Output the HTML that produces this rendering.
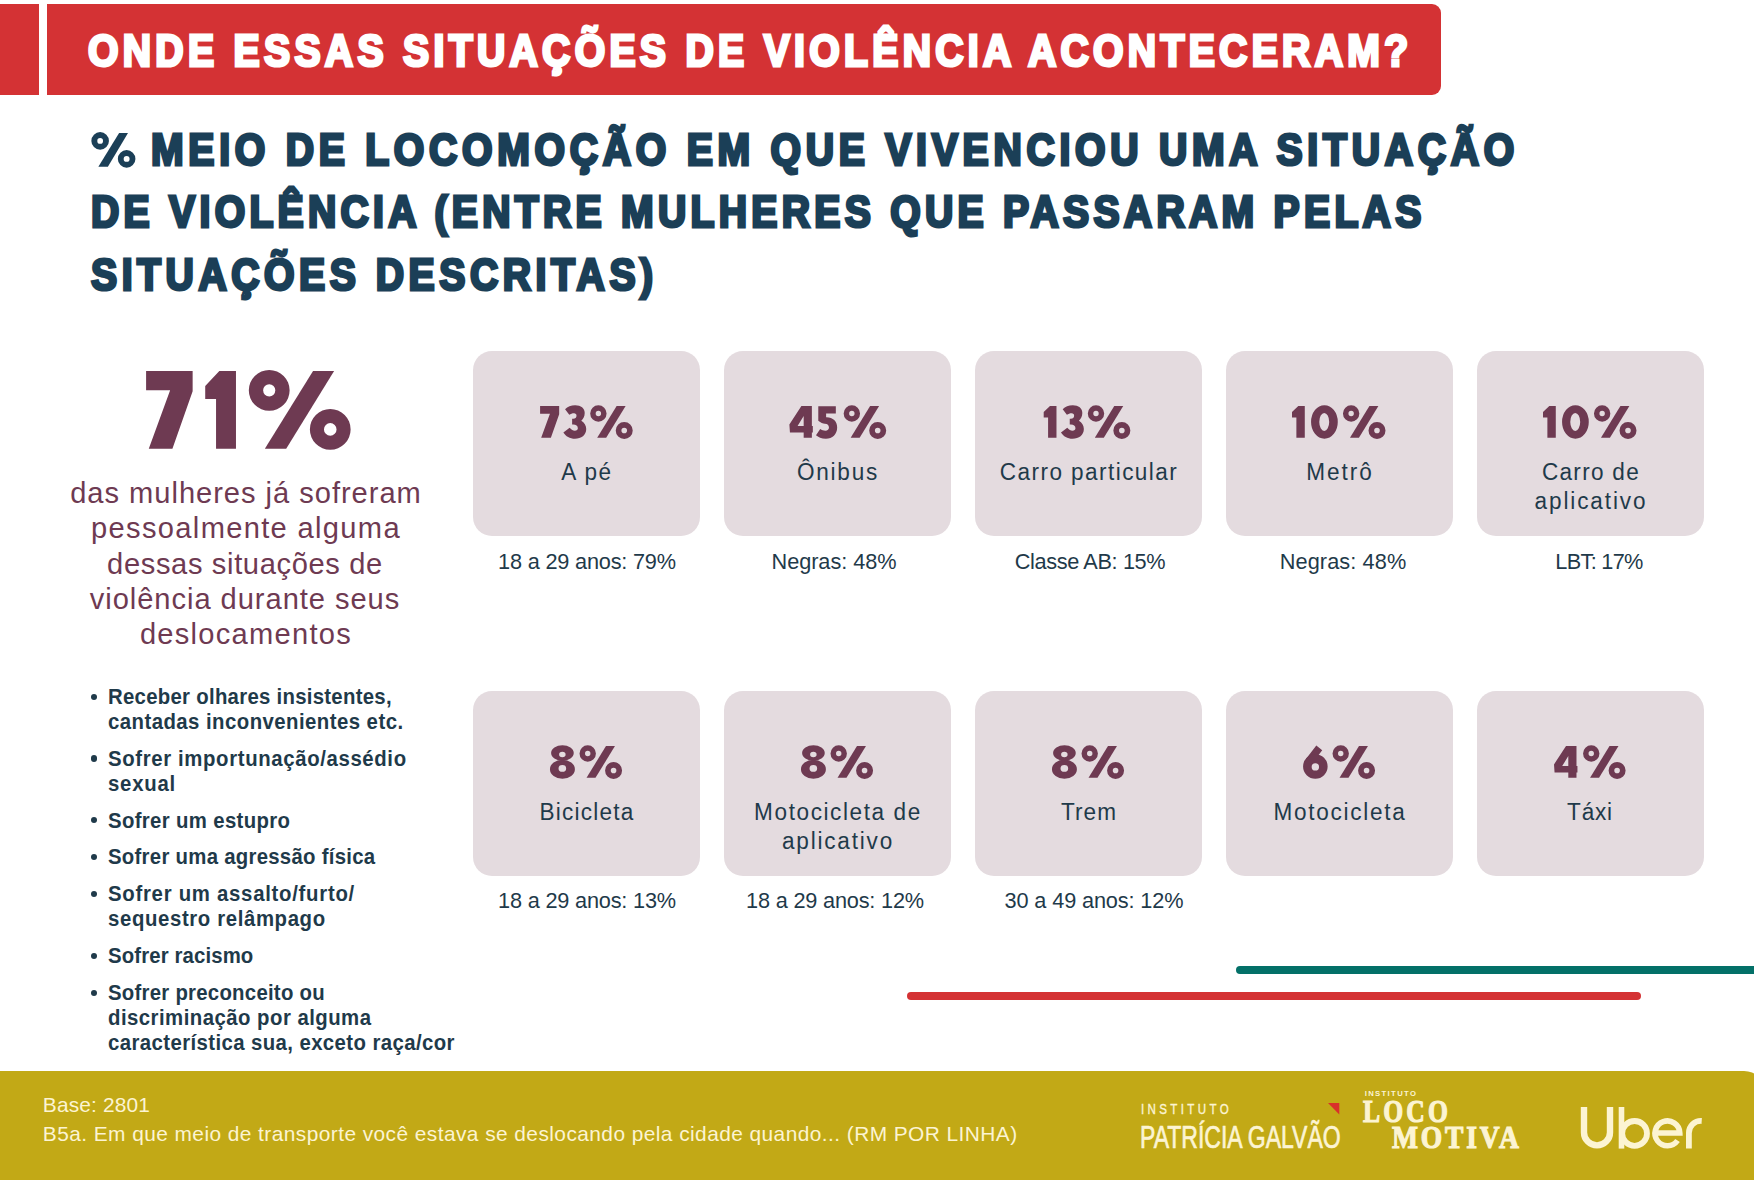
<!DOCTYPE html>
<html><head><meta charset="utf-8"><title>Onde essas situações de violência aconteceram?</title>
<style>
html,body{margin:0;padding:0;background:#ffffff;}
body{width:1754px;height:1180px;position:relative;overflow:hidden;font-family:"Liberation Sans", sans-serif;}
.t{position:absolute;white-space:nowrap;line-height:1;}
</style></head><body>
<div style="position:absolute;left:0px;top:4px;width:38.8px;height:91.2px;background:#d43234;"></div>
<div style="position:absolute;left:47.3px;top:4px;width:1394px;height:91.2px;background:#d43234;border-radius:0 9px 9px 0;"></div>
<svg style="position:absolute;left:0;top:0" width="300" height="300" viewBox="0 0 300 300"><g fill="#1b3f57">
<polygon points="98.35,166.74 107.88,166.74 128.0,133.05 119.11,133.05"/>
<path fill-rule="evenodd" d="M91.36,140.89 a8.79,8.79 0 1,0 17.58,0 a8.79,8.79 0 1,0 -17.58,0 Z M97.29,140.89 a2.86,2.86 0 1,0 5.72,0 a2.86,2.86 0 1,0 -5.72,0 Z"/>
<path fill-rule="evenodd" d="M117.84,158.90 a8.79,8.79 0 1,0 17.58,0 a8.79,8.79 0 1,0 -17.58,0 Z M123.66,158.90 a2.97,2.97 0 1,0 5.94,0 a2.97,2.97 0 1,0 -5.94,0 Z"/>
</g></svg>
<svg style="position:absolute;left:0;top:0" width="400" height="500" viewBox="0 0 400 500">
<g fill="#6e3a52">
<polygon points="146.10,371.10 192.64,371.10 192.64,391.32 172.42,448.76 148.77,448.76 170.13,390.17 146.10,390.17"/>
<polygon points="219.33,371.10 235.97,371.10 235.97,448.76 216.05,448.76 216.05,398.95 205.22,398.95 205.22,385.98"/>
<polygon points="264.83,448.76 286.19,448.76 334.10,371.10 313.05,371.10"/>
<path fill-rule="evenodd" d="M248.81,390.36 a20.41,20.41 0 1,0 40.82,0 a20.41,20.41 0 1,0 -40.82,0 Z M263.12,390.36 a6.1,6.1 0 1,0 12.2,0 a6.1,6.1 0 1,0 -12.2,0 Z"/>
<path fill-rule="evenodd" d="M309.88,429.38 a20.37,20.37 0 1,0 40.74,0 a20.37,20.37 0 1,0 -40.74,0 Z M323.95,429.38 a6.3,6.3 0 1,0 12.6,0 a6.3,6.3 0 1,0 -12.6,0 Z"/>
</g></svg>
<div style="position:absolute;left:90.8px;top:693.50px;width:6.4px;height:6.4px;border-radius:50%;background:#1f3a4a;"></div>
<div style="position:absolute;left:90.8px;top:755.30px;width:6.4px;height:6.4px;border-radius:50%;background:#1f3a4a;"></div>
<div style="position:absolute;left:90.8px;top:817.10px;width:6.4px;height:6.4px;border-radius:50%;background:#1f3a4a;"></div>
<div style="position:absolute;left:90.8px;top:854.00px;width:6.4px;height:6.4px;border-radius:50%;background:#1f3a4a;"></div>
<div style="position:absolute;left:90.8px;top:890.90px;width:6.4px;height:6.4px;border-radius:50%;background:#1f3a4a;"></div>
<div style="position:absolute;left:90.8px;top:952.70px;width:6.4px;height:6.4px;border-radius:50%;background:#1f3a4a;"></div>
<div style="position:absolute;left:90.8px;top:989.60px;width:6.4px;height:6.4px;border-radius:50%;background:#1f3a4a;"></div>
<div style="position:absolute;left:472.5px;top:351px;width:227px;height:185px;background:#e4dbdf;border-radius:19px;"></div>
<div style="position:absolute;left:723.5px;top:351px;width:227px;height:185px;background:#e4dbdf;border-radius:19px;"></div>
<div style="position:absolute;left:974.5px;top:351px;width:227px;height:185px;background:#e4dbdf;border-radius:19px;"></div>
<div style="position:absolute;left:1225.5px;top:351px;width:227px;height:185px;background:#e4dbdf;border-radius:19px;"></div>
<div style="position:absolute;left:1476.5px;top:351px;width:227px;height:185px;background:#e4dbdf;border-radius:19px;"></div>
<div style="position:absolute;left:472.5px;top:691px;width:227px;height:185px;background:#e4dbdf;border-radius:19px;"></div>
<div style="position:absolute;left:723.5px;top:691px;width:227px;height:185px;background:#e4dbdf;border-radius:19px;"></div>
<div style="position:absolute;left:974.5px;top:691px;width:227px;height:185px;background:#e4dbdf;border-radius:19px;"></div>
<div style="position:absolute;left:1225.5px;top:691px;width:227px;height:185px;background:#e4dbdf;border-radius:19px;"></div>
<div style="position:absolute;left:1476.5px;top:691px;width:227px;height:185px;background:#e4dbdf;border-radius:19px;"></div>
<svg style="position:absolute;left:0;top:0" width="1754" height="1180" viewBox="0 0 1754 1180"><g fill="#6e3a52"><polygon points="540.09,405.99 559.17,405.99 559.17,414.28 550.88,437.83 541.18,437.83 549.94,413.81 540.09,413.81"/><path transform="translate(563.36,405.99) scale(0.03812) translate(-90,-157.1)" d="M135,245 C200,170 290,135 400,135 C550,135 650,215 650,340 C650,430 610,500 560,545 C640,590 690,670 690,760 C690,920 560,1015 395,1015 C260,1015 150,950 90,850 L255,730 C300,780 345,805 390,805 C440,805 470,780 470,740 C470,680 420,645 350,645 L320,645 L320,490 L350,490 C400,490 435,460 435,410 C435,375 410,350 370,350 C320,350 285,365 245,390 Z"/><polygon points="597.19,437.83 606.17,437.83 625.62,405.99 616.64,405.99"/><path fill-rule="evenodd" d="M590.18,413.47 a8.20,8.20 0 1,0 16.40,0 a8.20,8.20 0 1,0 -16.40,0 Z M595.68,413.47 a2.70,2.70 0 1,0 5.40,0 a2.70,2.70 0 1,0 -5.40,0 Z"/><path fill-rule="evenodd" d="M615.73,430.53 a8.50,8.50 0 1,0 17.00,0 a8.50,8.50 0 1,0 -17.00,0 Z M621.43,430.53 a2.80,2.80 0 1,0 5.60,0 a2.80,2.80 0 1,0 -5.60,0 Z"/><path fill-rule="evenodd" transform="translate(789.38,405.99) scale(0.03812) translate(-115,-157.1)" d="M430,160 L705,160 L705,685 L730,685 L730,855 L705,855 L705,990 L490,990 L490,855 L130,855 L115,640 Z M330,685 L490,685 L490,420 Z"/><path transform="translate(816.00,405.99) scale(0.03812) translate(-105,-157.1)" d="M165,165 L625,165 L625,355 L370,355 L370,450 C545,445 660,555 660,720 C660,895 535,1015 365,1015 C245,1015 165,975 105,925 L215,760 C255,790 305,805 350,805 C410,805 445,770 445,720 C445,665 405,625 340,625 C285,625 230,590 165,545 Z"/><polygon points="850.66,437.83 859.64,437.83 879.09,405.99 870.11,405.99"/><path fill-rule="evenodd" d="M843.65,413.47 a8.20,8.20 0 1,0 16.40,0 a8.20,8.20 0 1,0 -16.40,0 Z M849.15,413.47 a2.70,2.70 0 1,0 5.40,0 a2.70,2.70 0 1,0 -5.40,0 Z"/><path fill-rule="evenodd" d="M869.20,430.53 a8.50,8.50 0 1,0 17.00,0 a8.50,8.50 0 1,0 -17.00,0 Z M874.90,430.53 a2.80,2.80 0 1,0 5.60,0 a2.80,2.80 0 1,0 -5.60,0 Z"/><polygon points="1049.99,405.99 1056.48,405.99 1056.48,437.83 1048.09,437.83 1048.09,417.43 1043.70,417.43 1043.70,412.09"/><path transform="translate(1060.98,405.99) scale(0.03812) translate(-90,-157.1)" d="M135,245 C200,170 290,135 400,135 C550,135 650,215 650,340 C650,430 610,500 560,545 C640,590 690,670 690,760 C690,920 560,1015 395,1015 C260,1015 150,950 90,850 L255,730 C300,780 345,805 390,805 C440,805 470,780 470,740 C470,680 420,645 350,645 L320,645 L320,490 L350,490 C400,490 435,460 435,410 C435,375 410,350 370,350 C320,350 285,365 245,390 Z"/><polygon points="1094.81,437.83 1103.79,437.83 1123.24,405.99 1114.26,405.99"/><path fill-rule="evenodd" d="M1087.80,413.47 a8.20,8.20 0 1,0 16.40,0 a8.20,8.20 0 1,0 -16.40,0 Z M1093.30,413.47 a2.70,2.70 0 1,0 5.40,0 a2.70,2.70 0 1,0 -5.40,0 Z"/><path fill-rule="evenodd" d="M1113.35,430.53 a8.50,8.50 0 1,0 17.00,0 a8.50,8.50 0 1,0 -17.00,0 Z M1119.05,430.53 a2.80,2.80 0 1,0 5.60,0 a2.80,2.80 0 1,0 -5.60,0 Z"/><polygon points="1298.29,405.99 1304.78,405.99 1304.78,437.83 1296.39,437.83 1296.39,417.43 1292.00,417.43 1292.00,412.09"/><path fill-rule="evenodd" d="M1311.07,421.93 a13.35,16.78 0 1,0 26.70,0 a13.35,16.78 0 1,0 -26.70,0 Z M1319.27,421.93 a4.96,8.96 0 1,0 9.92,0 a4.96,8.96 0 1,0 -9.92,0 Z"/><polygon points="1349.96,437.83 1358.94,437.83 1378.39,405.99 1369.41,405.99"/><path fill-rule="evenodd" d="M1342.95,413.47 a8.20,8.20 0 1,0 16.40,0 a8.20,8.20 0 1,0 -16.40,0 Z M1348.45,413.47 a2.70,2.70 0 1,0 5.40,0 a2.70,2.70 0 1,0 -5.40,0 Z"/><path fill-rule="evenodd" d="M1368.50,430.53 a8.50,8.50 0 1,0 17.00,0 a8.50,8.50 0 1,0 -17.00,0 Z M1374.20,430.53 a2.80,2.80 0 1,0 5.60,0 a2.80,2.80 0 1,0 -5.60,0 Z"/><polygon points="1549.29,405.99 1555.78,405.99 1555.78,437.83 1547.39,437.83 1547.39,417.43 1543.00,417.43 1543.00,412.09"/><path fill-rule="evenodd" d="M1562.07,421.93 a13.35,16.78 0 1,0 26.70,0 a13.35,16.78 0 1,0 -26.70,0 Z M1570.27,421.93 a4.96,8.96 0 1,0 9.92,0 a4.96,8.96 0 1,0 -9.92,0 Z"/><polygon points="1600.96,437.83 1609.94,437.83 1629.39,405.99 1620.41,405.99"/><path fill-rule="evenodd" d="M1593.95,413.47 a8.20,8.20 0 1,0 16.40,0 a8.20,8.20 0 1,0 -16.40,0 Z M1599.45,413.47 a2.70,2.70 0 1,0 5.40,0 a2.70,2.70 0 1,0 -5.40,0 Z"/><path fill-rule="evenodd" d="M1619.50,430.53 a8.50,8.50 0 1,0 17.00,0 a8.50,8.50 0 1,0 -17.00,0 Z M1625.20,430.53 a2.80,2.80 0 1,0 5.60,0 a2.80,2.80 0 1,0 -5.60,0 Z"/><path fill-rule="evenodd" d="M551.10,752.97 a11.33,7.82 0 1,0 22.66,0 a11.33,7.82 0 1,0 -22.66,0 Z M559.11,754.49 a3.24,2.67 0 1,0 6.48,0 a3.24,2.67 0 1,0 -6.48,0 Z"/><path fill-rule="evenodd" d="M549.96,769.18 a12.47,9.53 0 1,0 24.94,0 a12.47,9.53 0 1,0 -24.94,0 Z M558.54,768.41 a3.81,3.43 0 1,0 7.62,0 a3.81,3.43 0 1,0 -7.62,0 Z"/><polygon points="586.53,777.83 595.51,777.83 614.96,745.99 605.98,745.99"/><path fill-rule="evenodd" d="M579.52,753.47 a8.20,8.20 0 1,0 16.40,0 a8.20,8.20 0 1,0 -16.40,0 Z M585.02,753.47 a2.70,2.70 0 1,0 5.40,0 a2.70,2.70 0 1,0 -5.40,0 Z"/><path fill-rule="evenodd" d="M605.07,770.53 a8.50,8.50 0 1,0 17.00,0 a8.50,8.50 0 1,0 -17.00,0 Z M610.77,770.53 a2.80,2.80 0 1,0 5.60,0 a2.80,2.80 0 1,0 -5.60,0 Z"/><path fill-rule="evenodd" d="M802.10,752.97 a11.33,7.82 0 1,0 22.66,0 a11.33,7.82 0 1,0 -22.66,0 Z M810.11,754.49 a3.24,2.67 0 1,0 6.48,0 a3.24,2.67 0 1,0 -6.48,0 Z"/><path fill-rule="evenodd" d="M800.96,769.18 a12.47,9.53 0 1,0 24.94,0 a12.47,9.53 0 1,0 -24.94,0 Z M809.54,768.41 a3.81,3.43 0 1,0 7.62,0 a3.81,3.43 0 1,0 -7.62,0 Z"/><polygon points="837.53,777.83 846.51,777.83 865.96,745.99 856.98,745.99"/><path fill-rule="evenodd" d="M830.52,753.47 a8.20,8.20 0 1,0 16.40,0 a8.20,8.20 0 1,0 -16.40,0 Z M836.02,753.47 a2.70,2.70 0 1,0 5.40,0 a2.70,2.70 0 1,0 -5.40,0 Z"/><path fill-rule="evenodd" d="M856.07,770.53 a8.50,8.50 0 1,0 17.00,0 a8.50,8.50 0 1,0 -17.00,0 Z M861.77,770.53 a2.80,2.80 0 1,0 5.60,0 a2.80,2.80 0 1,0 -5.60,0 Z"/><path fill-rule="evenodd" d="M1053.10,752.97 a11.33,7.82 0 1,0 22.66,0 a11.33,7.82 0 1,0 -22.66,0 Z M1061.11,754.49 a3.24,2.67 0 1,0 6.48,0 a3.24,2.67 0 1,0 -6.48,0 Z"/><path fill-rule="evenodd" d="M1051.96,769.18 a12.47,9.53 0 1,0 24.94,0 a12.47,9.53 0 1,0 -24.94,0 Z M1060.54,768.41 a3.81,3.43 0 1,0 7.62,0 a3.81,3.43 0 1,0 -7.62,0 Z"/><polygon points="1088.53,777.83 1097.51,777.83 1116.96,745.99 1107.98,745.99"/><path fill-rule="evenodd" d="M1081.52,753.47 a8.20,8.20 0 1,0 16.40,0 a8.20,8.20 0 1,0 -16.40,0 Z M1087.02,753.47 a2.70,2.70 0 1,0 5.40,0 a2.70,2.70 0 1,0 -5.40,0 Z"/><path fill-rule="evenodd" d="M1107.07,770.53 a8.50,8.50 0 1,0 17.00,0 a8.50,8.50 0 1,0 -17.00,0 Z M1112.77,770.53 a2.80,2.80 0 1,0 5.60,0 a2.80,2.80 0 1,0 -5.60,0 Z"/><polygon points="1316.31,745.53 1322.22,750.30 1317.83,756.02 1315.35,759.83 1305.93,759.07"/><path fill-rule="evenodd" d="M1303.07,766.51 a12.28,12.28 0 1,0 24.56,0 a12.28,12.28 0 1,0 -24.56,0 Z M1311.65,766.89 a3.70,3.70 0 1,0 7.40,0 a3.70,3.70 0 1,0 -7.40,0 Z"/><polygon points="1339.53,777.83 1348.51,777.83 1367.96,745.99 1358.98,745.99"/><path fill-rule="evenodd" d="M1332.52,753.47 a8.20,8.20 0 1,0 16.40,0 a8.20,8.20 0 1,0 -16.40,0 Z M1338.02,753.47 a2.70,2.70 0 1,0 5.40,0 a2.70,2.70 0 1,0 -5.40,0 Z"/><path fill-rule="evenodd" d="M1358.07,770.53 a8.50,8.50 0 1,0 17.00,0 a8.50,8.50 0 1,0 -17.00,0 Z M1363.77,770.53 a2.80,2.80 0 1,0 5.60,0 a2.80,2.80 0 1,0 -5.60,0 Z"/><path fill-rule="evenodd" transform="translate(1554.00,745.99) scale(0.03812) translate(-115,-157.1)" d="M430,160 L705,160 L705,685 L730,685 L730,855 L705,855 L705,990 L490,990 L490,855 L130,855 L115,640 Z M330,685 L490,685 L490,420 Z"/><polygon points="1590.06,777.83 1599.04,777.83 1618.49,745.99 1609.51,745.99"/><path fill-rule="evenodd" d="M1583.05,753.47 a8.20,8.20 0 1,0 16.40,0 a8.20,8.20 0 1,0 -16.40,0 Z M1588.55,753.47 a2.70,2.70 0 1,0 5.40,0 a2.70,2.70 0 1,0 -5.40,0 Z"/><path fill-rule="evenodd" d="M1608.60,770.53 a8.50,8.50 0 1,0 17.00,0 a8.50,8.50 0 1,0 -17.00,0 Z M1614.30,770.53 a2.80,2.80 0 1,0 5.60,0 a2.80,2.80 0 1,0 -5.60,0 Z"/></g></svg>
<div style="position:absolute;left:1235.5px;top:966px;width:530px;height:8px;background:#037068;border-radius:4px;"></div>
<div style="position:absolute;left:907px;top:992px;width:733.5px;height:8px;background:#d43234;border-radius:4px;"></div>
<div style="position:absolute;left:0px;top:1071px;width:1765px;height:120px;background:#c2a916;border-radius:0 21px 0 0;"></div>
<div class="t" style="left:88.20px;top:29.58px;transform-origin:0 0;transform:scaleX(0.9);letter-spacing:4.793px;font-size:43.5px;font-weight:700;color:#ffffff;font-family:'Liberation Sans', sans-serif;-webkit-text-stroke:3.0px #ffffff;">ONDE ESSAS SITUAÇÕES DE VIOLÊNCIA ACONTECERAM?</div>
<div class="t" style="left:151.32px;top:128.68px;transform-origin:0 0;transform:scaleX(0.9);letter-spacing:5.274px;font-size:43.5px;font-weight:700;color:#1b3f57;font-family:'Liberation Sans', sans-serif;-webkit-text-stroke:3.0px #1b3f57;">MEIO DE LOCOMOÇÃO EM QUE VIVENCIOU UMA SITUAÇÃO</div>
<div class="t" style="left:91.00px;top:191.18px;transform-origin:0 0;transform:scaleX(0.9);letter-spacing:4.758px;font-size:43.5px;font-weight:700;color:#1b3f57;font-family:'Liberation Sans', sans-serif;-webkit-text-stroke:3.0px #1b3f57;">DE VIOLÊNCIA (ENTRE MULHERES QUE PASSARAM PELAS</div>
<div class="t" style="left:91.00px;top:253.58px;transform-origin:0 0;transform:scaleX(0.9);letter-spacing:5.058px;font-size:43.5px;font-weight:700;color:#1b3f57;font-family:'Liberation Sans', sans-serif;-webkit-text-stroke:3.0px #1b3f57;">SITUAÇÕES DESCRITAS)</div>
<div class="t" style="left:-354.31px;width:1200px;text-align:center;top:478.31px;transform-origin:50% 0;transform:scaleX(0.97);letter-spacing:1.0px;font-size:30px;font-weight:400;color:#6e3a52;font-family:'Liberation Sans', sans-serif;">das mulheres já sofreram</div>
<div class="t" style="left:-353.89px;width:1200px;text-align:center;top:513.40px;transform-origin:50% 0;transform:scaleX(0.97);letter-spacing:1.3608247422680453px;font-size:30px;font-weight:400;color:#6e3a52;font-family:'Liberation Sans', sans-serif;">pessoalmente alguma</div>
<div class="t" style="left:-354.98px;width:1200px;text-align:center;top:548.50px;transform-origin:50% 0;transform:scaleX(0.97);letter-spacing:0.6563573883161512px;font-size:30px;font-weight:400;color:#6e3a52;font-family:'Liberation Sans', sans-serif;">dessas situações de</div>
<div class="t" style="left:-354.52px;width:1200px;text-align:center;top:583.61px;transform-origin:50% 0;transform:scaleX(0.97);letter-spacing:0.9803632793323581px;font-size:30px;font-weight:400;color:#6e3a52;font-family:'Liberation Sans', sans-serif;">violência durante seus</div>
<div class="t" style="left:-353.87px;width:1200px;text-align:center;top:618.71px;transform-origin:50% 0;transform:scaleX(0.97);letter-spacing:1.3092783505154684px;font-size:30px;font-weight:400;color:#6e3a52;font-family:'Liberation Sans', sans-serif;">deslocamentos</div>
<div class="t" style="left:108.10px;top:685.96px;transform-origin:0 0;transform:scaleX(0.93);letter-spacing:0.29868578255675027px;font-size:21.9px;font-weight:700;color:#1f3a4a;font-family:'Liberation Sans', sans-serif;">Receber olhares insistentes,</div>
<div class="t" style="left:108.10px;top:710.86px;transform-origin:0 0;transform:scaleX(0.93);letter-spacing:0.4858622062923111px;font-size:21.9px;font-weight:700;color:#1f3a4a;font-family:'Liberation Sans', sans-serif;">cantadas inconvenientes etc.</div>
<div class="t" style="left:108.10px;top:747.76px;transform-origin:0 0;transform:scaleX(0.93);letter-spacing:0.678246484698099px;font-size:21.9px;font-weight:700;color:#1f3a4a;font-family:'Liberation Sans', sans-serif;">Sofrer importunação/assédio</div>
<div class="t" style="left:108.10px;top:772.66px;transform-origin:0 0;transform:scaleX(0.93);letter-spacing:0.817204301075265px;font-size:21.9px;font-weight:700;color:#1f3a4a;font-family:'Liberation Sans', sans-serif;">sexual</div>
<div class="t" style="left:108.10px;top:809.56px;transform-origin:0 0;transform:scaleX(0.93);letter-spacing:0.3696236559139785px;font-size:21.9px;font-weight:700;color:#1f3a4a;font-family:'Liberation Sans', sans-serif;">Sofrer um estupro</div>
<div class="t" style="left:108.10px;top:846.46px;transform-origin:0 0;transform:scaleX(0.93);letter-spacing:0.2967741935483885px;font-size:21.9px;font-weight:700;color:#1f3a4a;font-family:'Liberation Sans', sans-serif;">Sofrer uma agressão física</div>
<div class="t" style="left:108.10px;top:883.36px;transform-origin:0 0;transform:scaleX(0.93);letter-spacing:0.7760635811126679px;font-size:21.9px;font-weight:700;color:#1f3a4a;font-family:'Liberation Sans', sans-serif;">Sofrer um assalto/furto/</div>
<div class="t" style="left:108.10px;top:908.26px;transform-origin:0 0;transform:scaleX(0.93);letter-spacing:0.6690561529271165px;font-size:21.9px;font-weight:700;color:#1f3a4a;font-family:'Liberation Sans', sans-serif;">sequestro relâmpago</div>
<div class="t" style="left:108.10px;top:945.16px;transform-origin:0 0;transform:scaleX(0.93);letter-spacing:0.13234077750206497px;font-size:21.9px;font-weight:700;color:#1f3a4a;font-family:'Liberation Sans', sans-serif;">Sofrer racismo</div>
<div class="t" style="left:108.10px;top:982.06px;transform-origin:0 0;transform:scaleX(0.93);letter-spacing:0.2741935483870949px;font-size:21.9px;font-weight:700;color:#1f3a4a;font-family:'Liberation Sans', sans-serif;">Sofrer preconceito ou</div>
<div class="t" style="left:108.10px;top:1006.96px;transform-origin:0 0;transform:scaleX(0.93);letter-spacing:0.5002337540906934px;font-size:21.9px;font-weight:700;color:#1f3a4a;font-family:'Liberation Sans', sans-serif;">discriminação por alguma</div>
<div class="t" style="left:108.10px;top:1031.86px;transform-origin:0 0;transform:scaleX(0.93);letter-spacing:0.43327008222643676px;font-size:21.9px;font-weight:700;color:#1f3a4a;font-family:'Liberation Sans', sans-serif;">característica sua, exceto raça/cor</div>
<div class="t" style="left:-13.29px;width:1200px;text-align:center;top:461.31px;transform-origin:50% 0;transform:scaleX(0.96);letter-spacing:1.590277777777754px;font-size:23.5px;font-weight:400;color:#1f3a4a;font-family:'Liberation Sans', sans-serif;">A pé</div>
<div class="t" style="left:238.18px;width:1200px;text-align:center;top:461.31px;transform-origin:50% 0;transform:scaleX(0.96);letter-spacing:1.8333333333333335px;font-size:23.5px;font-weight:400;color:#1f3a4a;font-family:'Liberation Sans', sans-serif;">Ônibus</div>
<div class="t" style="left:489.27px;width:1200px;text-align:center;top:461.31px;transform-origin:50% 0;transform:scaleX(0.96);letter-spacing:1.4930555555555651px;font-size:23.5px;font-weight:400;color:#1f3a4a;font-family:'Liberation Sans', sans-serif;">Carro particular</div>
<div class="t" style="left:740.32px;width:1200px;text-align:center;top:461.31px;transform-origin:50% 0;transform:scaleX(0.96);letter-spacing:2.0156249999999645px;font-size:23.5px;font-weight:400;color:#1f3a4a;font-family:'Liberation Sans', sans-serif;">Metrô</div>
<div class="t" style="left:990.79px;width:1200px;text-align:center;top:461.31px;transform-origin:50% 0;transform:scaleX(0.96);letter-spacing:1.342261904761966px;font-size:23.5px;font-weight:400;color:#1f3a4a;font-family:'Liberation Sans', sans-serif;">Carro de</div>
<div class="t" style="left:991.29px;width:1200px;text-align:center;top:490.31px;transform-origin:50% 0;transform:scaleX(0.96);letter-spacing:1.9606481481481957px;font-size:23.5px;font-weight:400;color:#1f3a4a;font-family:'Liberation Sans', sans-serif;">aplicativo</div>
<div class="t" style="left:-13.20px;width:1200px;text-align:center;top:550.94px;transform-origin:50% 0;transform:scaleX(0.97);letter-spacing:-0.20618556701030488px;font-size:22.4px;font-weight:400;color:#1f3a4a;font-family:'Liberation Sans', sans-serif;">18 a 29 anos: 79%</div>
<div class="t" style="left:234.43px;width:1200px;text-align:center;top:550.94px;transform-origin:50% 0;transform:scaleX(0.97);letter-spacing:-0.05154639175257731px;font-size:22.4px;font-weight:400;color:#1f3a4a;font-family:'Liberation Sans', sans-serif;">Negras: 48%</div>
<div class="t" style="left:489.72px;width:1200px;text-align:center;top:550.94px;transform-origin:50% 0;transform:scaleX(0.97);letter-spacing:-0.38065027755752656px;font-size:22.4px;font-weight:400;color:#1f3a4a;font-family:'Liberation Sans', sans-serif;">Classe AB: 15%</div>
<div class="t" style="left:742.55px;width:1200px;text-align:center;top:550.94px;transform-origin:50% 0;transform:scaleX(0.97);letter-spacing:0.10309278350515465px;font-size:22.4px;font-weight:400;color:#1f3a4a;font-family:'Liberation Sans', sans-serif;">Negras: 48%</div>
<div class="t" style="left:999.34px;width:1200px;text-align:center;top:550.94px;transform-origin:50% 0;transform:scaleX(0.97);letter-spacing:-0.7363770250368189px;font-size:22.4px;font-weight:400;color:#1f3a4a;font-family:'Liberation Sans', sans-serif;">LBT: 17%</div>
<div class="t" style="left:-13.34px;width:1200px;text-align:center;top:801.31px;transform-origin:50% 0;transform:scaleX(0.96);letter-spacing:1.2734374999999734px;font-size:23.5px;font-weight:400;color:#1f3a4a;font-family:'Liberation Sans', sans-serif;">Bicicleta</div>
<div class="t" style="left:238.40px;width:1200px;text-align:center;top:801.31px;transform-origin:50% 0;transform:scaleX(0.96);letter-spacing:1.6570512820512764px;font-size:23.5px;font-weight:400;color:#1f3a4a;font-family:'Liberation Sans', sans-serif;">Motocicleta de</div>
<div class="t" style="left:488.75px;width:1200px;text-align:center;top:801.31px;transform-origin:50% 0;transform:scaleX(0.96);letter-spacing:1.1388888888888418px;font-size:23.5px;font-weight:400;color:#1f3a4a;font-family:'Liberation Sans', sans-serif;">Trem</div>
<div class="t" style="left:739.52px;width:1200px;text-align:center;top:801.31px;transform-origin:50% 0;transform:scaleX(0.96);letter-spacing:1.8020833333332906px;font-size:23.5px;font-weight:400;color:#1f3a4a;font-family:'Liberation Sans', sans-serif;">Motocicleta</div>
<div class="t" style="left:990.25px;width:1200px;text-align:center;top:801.31px;transform-origin:50% 0;transform:scaleX(0.96);letter-spacing:0.8263888888888888px;font-size:23.5px;font-weight:400;color:#1f3a4a;font-family:'Liberation Sans', sans-serif;">Táxi</div>
<div class="t" style="left:238.05px;width:1200px;text-align:center;top:830.31px;transform-origin:50% 0;transform:scaleX(0.96);letter-spacing:1.8680555555555554px;font-size:23.5px;font-weight:400;color:#1f3a4a;font-family:'Liberation Sans', sans-serif;">aplicativo</div>
<div class="t" style="left:-13.35px;width:1200px;text-align:center;top:889.74px;transform-origin:50% 0;transform:scaleX(0.97);letter-spacing:-0.19974226804124592px;font-size:22.4px;font-weight:400;color:#1f3a4a;font-family:'Liberation Sans', sans-serif;">18 a 29 anos: 13%</div>
<div class="t" style="left:234.71px;width:1200px;text-align:center;top:889.74px;transform-origin:50% 0;transform:scaleX(0.97);letter-spacing:-0.19329896907216498px;font-size:22.4px;font-weight:400;color:#1f3a4a;font-family:'Liberation Sans', sans-serif;">18 a 29 anos: 12%</div>
<div class="t" style="left:493.63px;width:1200px;text-align:center;top:889.74px;transform-origin:50% 0;transform:scaleX(0.97);letter-spacing:-0.14175257731958324px;font-size:22.4px;font-weight:400;color:#1f3a4a;font-family:'Liberation Sans', sans-serif;">30 a 49 anos: 12%</div>
<div class="t" style="left:42.80px;top:1095.01px;transform-origin:0 0;letter-spacing:0.15px;font-size:20.9px;font-weight:400;color:#fcf4d2;font-family:'Liberation Sans', sans-serif;">Base: 2801</div>
<div class="t" style="left:42.80px;top:1123.71px;transform-origin:0 0;letter-spacing:0.43px;font-size:20.9px;font-weight:400;color:#fcf4d2;font-family:'Liberation Sans', sans-serif;">B5a. Em que meio de transporte você estava se deslocando pela cidade quando... (RM POR LINHA)</div>
<div class="t" style="left:1141.30px;top:1101.26px;transform-origin:0 0;transform:scaleX(0.75);letter-spacing:4.5px;font-size:15.4px;font-weight:400;color:#fcf4d2;font-family:'Liberation Sans', sans-serif;-webkit-text-stroke:0.4px #fcf4d2;">INSTITUTO</div>
<div class="t" style="left:1140.20px;top:1121.95px;transform-origin:0 0;transform:scaleX(0.735);font-size:31.3px;font-weight:400;color:#fcf4d2;font-family:'Liberation Sans', sans-serif;-webkit-text-stroke:0.7px #fcf4d2;">PATRÍCIA GALVÃO</div>
<div class="t" style="left:1364.70px;top:1090.08px;transform-origin:0 0;letter-spacing:1.35px;font-size:7.7px;font-weight:700;color:#fcf4d2;font-family:'Liberation Sans', sans-serif;">INSTITUTO</div>
<div class="t" style="left:1363.00px;top:1095.95px;transform-origin:0 0;transform:scaleX(0.81);letter-spacing:3.9px;font-size:31.6px;font-weight:700;color:#fcf4d2;font-family:'Liberation Serif', serif;-webkit-text-stroke:1.2px #fcf4d2;">LOCO</div>
<div class="t" style="left:1392.00px;top:1121.21px;transform-origin:0 0;transform:scaleX(0.86);letter-spacing:3.3px;font-size:32px;font-weight:700;color:#fcf4d2;font-family:'Liberation Serif', serif;-webkit-text-stroke:1.2px #fcf4d2;">MOTIVA</div>
<svg style="position:absolute;left:0;top:0" width="1754" height="1180" viewBox="0 0 1754 1180">
<polygon points="1328,1103 1339.3,1103 1339.3,1114.5" fill="#d9302a"/>
<g fill="none" stroke="#fcf4d2">
<path d="M1584,1107 V1132.4 A13,13 0 0,0 1610,1132.4 V1107" stroke-width="6.4"/>
<path d="M1621.5,1107 V1148.6" stroke-width="5.6"/>
<circle cx="1634.6" cy="1133.4" r="12.4" stroke-width="5.8"/>
<path d="M1655,1133 H1679.8 A12.4,12.4 0 1,0 1677.56,1140.5" stroke-width="5.6"/>
<path d="M1688.9,1148.6 V1133 A12,12 0 0,1 1701.7,1121" stroke-width="5.8"/>
</g></svg>
</body></html>
